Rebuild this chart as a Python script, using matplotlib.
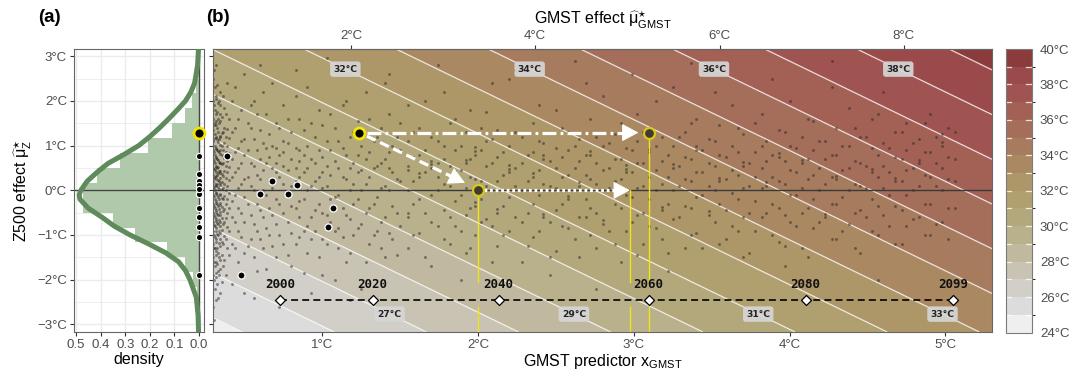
import numpy as np
import matplotlib
matplotlib.use("Agg")
import matplotlib.pyplot as plt
from matplotlib.colors import ListedColormap, BoundaryNorm

plt.rcParams['font.family'] = ['Liberation Sans', 'DejaVu Sans']
plt.rcParams['mathtext.fontset'] = 'custom'
plt.rcParams['mathtext.rm'] = 'Liberation Sans'
plt.rcParams['mathtext.it'] = 'Liberation Sans:italic'
plt.rcParams['mathtext.bf'] = 'Liberation Sans:bold'
plt.rcParams['lines.scale_dashes'] = False

# ---------------- data ----------------
# temperature model read from the isotherms: T = base + mu_GMST + mu_Z, mu_GMST = slope * x
T_BASE = 27.35
MU_PER_X = 1.69
levels = list(range(24, 41))
band_colors = ['#efefef', '#dcdcdc', '#d1cfc8', '#c8c3b2', '#c0b99f', '#b9b08c',
               '#b3a87b', '#b0a06f', '#ad9667', '#aa8962', '#a77b5e', '#a56e5a',
               '#a36156', '#a05452', '#9a4a4a', '#8c3b3c']

# histogram of Z500 effect (bin width 1/3)
hist_z = [-2.667, -2.333, -2.0, -1.667, -1.333, -1.0, -0.667, -0.333, 0.0,
          0.333, 0.667, 1.0, 1.333, 1.667, 2.0, 2.333, 2.667]
hist_d = [0.004, 0.010, 0.025, 0.057, 0.131, 0.260, 0.348, 0.470, 0.470,
          0.416, 0.321, 0.206, 0.111, 0.057, 0.030, 0.012, 0.005]

# density curve
dens_z = [-3.2, -2.8, -2.4, -2.0, -1.8, -1.6, -1.4, -1.2, -1.0, -0.8, -0.6, -0.4,
          -0.2, -0.1, 0.0, 0.2, 0.4, 0.6, 0.8, 1.0, 1.2, 1.4, 1.6, 1.8, 2.0, 2.2,
          2.4, 2.8, 3.2]
dens_d = [0.002, 0.004, 0.011, 0.037, 0.055, 0.083, 0.135, 0.205, 0.280, 0.345,
          0.395, 0.450, 0.484, 0.487, 0.480, 0.455, 0.415, 0.370, 0.305, 0.245,
          0.200, 0.160, 0.123, 0.088, 0.055, 0.033, 0.018, 0.006, 0.002]

# selected (large black) points; x < 0.3 ones fall outside panel (b)
sel_x = [0.390, 0.677, 0.838, 0.602, 0.782, 1.067, 1.037, 0.476, 0.25, 0.25, 0.25, 0.25]
sel_z = [0.764, 0.202, 0.112, -0.081, -0.074, -0.396, -0.822, -1.888, 0.369, 0.022, -0.591, -1.04]

# highlighted event and counterfactual points
hl_x, hl_z = 1.236, 1.29
cf1_x, cf1_z = 2.0, 0.0
cf2_x, cf2_z = 3.097, 1.29
eq_x = 2.975

# year markers along the GMST axis
years = [2000, 2020, 2040, 2060, 2080, 2099]
year_x = [0.727, 1.323, 2.132, 3.095, 4.103, 5.048]
year_z = -2.456

# contour label placement
top_labels = [32, 34, 36, 38]
bot_labels = [27, 29, 31, 33]

# point cloud: columns of x with z values
cloud_x = [0.30, 0.31, 0.32, 0.33, 0.34, 0.355, 0.37, 0.39,
           0.42, 0.46, 0.50, 0.54, 0.58, 0.62, 0.66, 0.70, 0.75, 0.80, 0.85, 0.90,
           0.95, 1.00, 1.05, 1.10, 1.15, 1.20, 1.25, 1.30, 1.35, 1.40, 1.45, 1.50,
           1.55, 1.62, 1.70, 1.78, 1.85, 1.92, 1.98, 2.05, 2.12, 2.20, 2.28, 2.35,
           2.42, 2.50, 2.58, 2.65, 2.72, 2.80, 2.88, 2.95, 3.02, 3.10, 3.18, 3.25,
           3.33, 3.40, 3.48, 3.55, 3.63, 3.70, 3.78, 3.85, 3.93, 4.00, 4.08, 4.15,
           4.23, 4.30, 4.38, 4.45, 4.53, 4.60, 4.68, 4.75, 4.83, 4.90, 4.98, 5.06]
cloud_z = [
    [-2.6, -1.9, -1.5, -1.2, -0.9, -0.7, -0.5, -0.3, -0.1, 0.05, 0.2, 0.35, 0.5, 0.7, 0.9, 1.1, 1.35, 1.6, 2.0, 2.5],
    [-2.2, -1.7, -1.3, -1.05, -0.8, -0.6, -0.4, -0.2, 0.0, 0.15, 0.3, 0.45, 0.6, 0.8, 1.0, 1.25, 1.5, 1.8, 2.3],
    [-1.95, -1.6, -1.35, -1.1, -0.85, -0.65, -0.45, -0.25, -0.05, 0.1, 0.25, 0.4, 0.55, 0.75, 0.95, 1.2, 1.45, 1.7, 2.1, 2.8],
    [-2.4, -1.8, -1.4, -1.0, -0.75, -0.55, -0.35, -0.15, 0.08, 0.22, 0.38, 0.52, 0.68, 0.88, 1.08, 1.3, 1.6, 1.95],
    [-1.75, -1.25, -0.95, -0.7, -0.48, -0.28, -0.08, 0.12, 0.28, 0.42, 0.62, 0.82, 1.02, 1.22, 1.55, 1.9, 2.2],
    [-2.05, -1.45, -1.15, -0.88, -0.62, -0.38, -0.18, 0.02, 0.18, 0.36, 0.58, 0.78, 1.0, 1.28, 1.65],
    [-1.55, -1.02, -0.72, -0.42, -0.12, 0.14, 0.44, 0.72, 1.05, 1.4, 1.85],
    [-1.3, -0.82, -0.5, -0.2, 0.1, 0.4, 0.66, 0.98, 1.38, 2.4],
    [-2.1, -1.2, -0.6, -0.25, 0.3, 0.7, 1.3, 2.0],
    [-1.6, -0.9, -0.4, 0.05, 0.5, 0.95, 1.6],
    [-2.3, -1.4, -0.7, -0.15, 0.25, 0.8, 1.15, 2.6],
    [-1.1, -0.55, 0.1, 0.6, 1.4, 1.9],
    [-1.8, -0.9, -0.3, 0.35, 0.9, 1.7],
    [-1.3, -0.6, 0.0, 0.45, 1.05, 2.2],
    [-2.0, -1.0, -0.4, 0.2, 0.75, 1.25],
    [-1.5, -0.75, -0.2, 0.4, 0.6, 0.95, 1.5],
    [-1.2, -0.5, 0.15, 0.55, 0.85, 1.1, 1.9],
    [-1.7, -0.95, -0.35, 0.1, 0.7, 1.3],
    [-1.05, -0.6, -0.25, 0.3, 0.65, 0.9, 1.6],
    [-1.4, -0.8, 0.0, 0.5, 1.0, 2.3],
    [-0.9, -0.45, 0.2, 0.6, 1.2],
    [-1.9, -1.1, -0.5, 0.05, 0.4, 0.75, 1.45],
    [-0.7, -0.2, 0.35, 0.9, 1.7],
    [-1.3, -0.85, -0.1, 0.5, 1.1],
    [-1.6, -0.55, 0.25, 0.8, 2.0],
    [-1.0, -0.3, 0.15, 0.6, 1.3],
    [-2.2, -0.75, 0.0, 0.45, 1.0],
    [-1.2, -0.4, 0.3, 0.85, 1.6],
    [-0.9, -0.15, 0.55, 1.2],
    [-1.5, -0.6, 0.1, 0.7, 2.4],
    [-1.1, -0.35, 0.4, 1.0],
    [-0.8, 0.2, 0.9, 1.5],
    [-1.3, -0.6, -0.5, 0.0, 0.45, 0.55, 1.1, 1.9],
    [-0.95, -0.2, 0.3, 0.38, 0.8, 1.4],
    [-1.7, -0.7, -0.1, 0.5, 0.58, 0.66, 1.2],
    [-1.1, -0.45, 0.15, 0.7, 1.0, 2.2],
    [-0.8, -0.25, 0.35, 0.43, 0.9, 1.6],
    [-1.4, -0.55, 0.05, 0.6, 0.68, 1.3],
    [-1.0, -0.35, -0.27, 0.25, 0.8, 0.88, 0.96],
    [-0.65, 0.1, 0.55, 1.1, 1.75],
    [-1.25, -0.5, -0.42, 0.2, 0.75, 1.35],
    [-0.9, -0.15, 0.4, 0.48, 0.56, 1.0, 2.5],
    [-1.6, -0.7, 0.0, 0.6, 1.2],
    [-1.05, -0.3, 0.3, 0.38, 0.85, 1.5],
    [-0.6, -0.52, 0.15, 0.7, 0.78, 1.05],
    [-1.35, -0.45, 0.05, 0.5, 0.95, 1.8],
    [-0.85, -0.2, -0.12, 0.35, 0.9, 1.3],
    [-1.5, -0.6, 0.1, 0.18, 0.65, 1.15],
    [-1.0, -0.4, 0.25, 0.8, 0.88, 1.6],
    [-0.75, -0.67, 0.0, 0.45, 1.0, 2.1],
    [-1.2, -0.3, 0.2, 0.7, 1.25],
    [-0.9, -0.1, 0.4, 0.48, 0.56, 0.95],
    [-1.45, -0.55, 0.05, 0.6, 1.1, 1.7],
    [-0.8, -0.2, 0.3, 0.85, 0.93, 1.4],
    [-1.1, -0.45, -0.37, 0.15, 0.65, 1.2],
    [-0.65, 0.0, 0.5, 0.58, 1.0, 2.3],
    [-1.3, -0.35, 0.25, 0.75, 1.3],
    [-0.95, -0.15, 0.4, 0.9, 0.98, 1.6],
    [-0.55, -0.47, 0.1, 0.6, 1.15],
    [-1.2, -0.3, 0.2, 0.28, 0.8, 1.45],
    [-0.8, -0.05, 0.45, 1.0, 1.9],
    [-1.5, -0.6, 0.05, 0.55, 0.63, 1.25],
    [-0.9, -0.25, 0.3, 0.85, 1.5],
    [-0.5, 0.1, 0.18, 0.65, 1.1],
    [-1.15, -0.4, 0.2, 0.75, 0.83, 1.35],
    [-0.7, -0.1, 0.45, 1.0, 2.0],
    [-1.3, -0.5, 0.05, 0.6, 0.68, 1.2],
    [-0.85, -0.2, 0.35, 0.9, 1.55],
    [-0.6, -0.52, 0.15, 0.7, 1.1],
    [-1.1, -0.3, 0.25, 0.33, 0.8, 1.4],
    [-0.75, 0.0, 0.5, 1.0, 1.85],
    [-1.4, -0.45, 0.1, 0.6, 1.2],
    [-0.9, -0.2, 0.4, 0.48, 0.95, 1.6],
    [-0.55, 0.05, 0.55, 1.05, 2.2],
    [-1.2, -0.35, 0.2, 0.28, 0.75, 1.3],
    [-0.8, -0.1, 0.45, 0.9, 1.5],
    [-0.6, 0.1, 0.6, 0.68, 1.15],
    [-1.0, -0.3, 0.3, 0.85, 1.7],
    [-0.7, 0.0, 0.5, 1.0, 1.08, 1.25],
    [-0.4, 0.2, 0.7, 1.3],
]
cloud2_x = [0.305, 0.315, 0.325, 0.335, 0.345, 0.36, 0.38, 0.40, 0.44, 0.48, 0.52, 0.56,
            0.60, 0.64, 0.68, 0.72, 0.78, 0.83, 0.88, 0.93, 0.98, 1.03, 1.08, 1.13, 1.18,
            1.23, 1.28, 1.33, 1.38, 1.43, 1.48, 1.58, 1.66, 1.74, 1.82, 1.89, 1.95, 2.02,
            2.09, 2.16, 2.24, 2.32, 2.39, 2.46, 2.54, 2.62, 2.69, 2.76, 2.84, 2.92, 2.99,
            3.06, 3.14, 3.22, 3.29, 3.37, 3.44, 3.52, 3.59, 3.67, 3.74, 3.82, 3.89, 3.97,
            4.04, 4.12, 4.19, 4.27, 4.34, 4.42, 4.49, 4.57, 4.64, 4.72, 4.79, 4.87, 4.94, 5.02]
cloud2_z = [
    [-2.9, -2.0, -1.6, -1.3, -1.0, -0.78, -0.55, -0.35, -0.12, 0.08, 0.27, 0.48, 0.66, 0.85, 1.15, 1.45, 1.9, 2.7],
    [-2.45, -1.85, -1.45, -1.15, -0.92, -0.68, -0.48, -0.28, -0.06, 0.12, 0.32, 0.52, 0.72, 0.92, 1.18, 1.55, 2.05],
    [-2.1, -1.65, -1.28, -0.98, -0.74, -0.52, -0.3, -0.1, 0.14, 0.34, 0.5, 0.7, 0.9, 1.12, 1.4, 1.75, 2.35],
    [-1.9, -1.5, -1.18, -0.9, -0.66, -0.42, -0.2, 0.02, 0.2, 0.44, 0.64, 0.86, 1.14, 1.5, 2.0],
    [-2.3, -1.55, -1.08, -0.8, -0.56, -0.32, -0.1, 0.16, 0.38, 0.6, 0.9, 1.2, 1.7],
    [-1.7, -1.2, -0.76, -0.46, -0.2, 0.06, 0.32, 0.6, 0.9, 1.3, 2.1],
    [-1.9, -1.1, -0.62, -0.3, 0.0, 0.28, 0.55, 0.86, 1.2, 1.7],
    [-1.45, -0.92, -0.4, -0.05, 0.22, 0.52, 0.84, 1.18, 1.6],
    [-1.3, -0.7, -0.1, 0.4, 0.85, 1.4, 2.3],
    [-1.9, -1.05, -0.5, 0.15, 0.62, 1.1, 1.8],
    [-1.25, -0.3, 0.3, 0.9, 1.5],
    [-2.4, -1.5, -0.75, 0.0, 0.55, 1.15, 2.0],
    [-1.1, -0.45, 0.25, 0.7, 1.35, 2.8],
    [-1.75, -0.85, -0.1, 0.6, 0.95, 1.7],
    [-1.25, -0.55, 0.05, 0.5, 1.0, 2.4],
    [-2.1, -1.0, -0.3, 0.3, 0.8, 1.4, -2.6],
    [-1.45, -0.7, -0.05, 0.45, 1.05, 1.6],
    [-1.2, -0.4, 0.2, 0.5, 0.95, 2.1, 2.7],
    [-1.85, -0.9, -0.2, 0.4, 0.8, 1.35],
    [-1.1, -0.6, 0.1, 0.7, 1.5, -2.3],
    [-1.5, -0.3, 0.3, 0.9, 1.8],
    [-1.2, -0.55, 0.1, 0.55, 1.1, 2.95],
    [-2.0, -0.9, -0.15, 0.65, 1.4],
    [-1.05, -0.4, 0.3, 0.95, 1.9],
    [-1.4, -0.65, 0.0, 0.5, 1.2, -2.45],
    [-0.85, -0.2, 0.4, 0.8, 1.55],
    [-1.6, -0.5, 0.15, 0.7, 2.2],
    [-1.0, -0.3, 0.5, 1.1],
    [-1.3, -0.7, 0.05, 0.6, 1.4],
    [-0.95, 0.0, 0.5, 0.85, 1.7, 2.6],
    [-1.45, -0.5, 0.25, 1.2],
    [-1.0, -0.3, 0.2, 0.75, 1.3],
    [-1.5, -0.5, 0.4, 0.9, 2.0],
    [-0.8, 0.0, 0.3, 0.6, 1.1, 2.8],
    [-1.2, -0.6, 0.1, 0.55, 1.5],
    [-0.9, -0.1, 0.45, 1.0, -2.0],
    [-1.3, -0.4, 0.3, 0.7, 1.8],
    [-0.7, -0.2, 0.2, 0.9, 1.4],
    [-1.6, -0.8, 0.0, 0.6, 1.15, 2.4],
    [-1.0, -0.35, 0.35, 0.85],
    [-0.6, 0.1, 0.5, 1.3, 2.7],
    [-1.25, -0.5, 0.2, 0.8],
    [-0.9, -0.1, 0.45, 1.1, 1.9],
    [-1.5, -0.7, 0.1, 0.65, -1.9],
    [-0.8, -0.3, 0.3, 0.75, 1.4],
    [-1.1, 0.0, 0.5, 1.0, 2.9],
    [-0.6, -0.2, 0.35, 0.8, 2.4],
    [-1.3, -0.5, 0.15, 0.6, 1.2, -2.2],
    [-0.9, 0.05, 0.5, 1.05],
    [-1.6, -0.4, 0.25, 0.7, 1.5],
    [-0.7, -0.15, 0.4, 0.9, 2.6],
    [-1.2, -0.5, 0.1, 0.6, 1.3],
    [-0.85, 0.0, 0.45, 1.0, 2.0],
    [-1.4, -0.3, 0.3, 0.8, -1.8],
    [-0.6, 0.1, 0.55, 1.2],
    [-1.0, -0.4, 0.2, 0.7, 1.5, 2.85],
    [-1.3, -0.1, 0.4, 0.9],
    [-0.7, 0.0, 0.55, 1.1, 2.2],
    [-1.1, -0.45, 0.25, 0.75],
    [-0.9, -0.2, 0.35, 0.85, 1.4],
    [-1.4, -0.5, 0.1, 0.6],
    [-0.6, 0.05, 0.5, 1.0, 1.7],
    [-1.0, -0.3, 0.3, 0.8, 2.5],
    [-1.25, -0.55, 0.15, 0.65, 1.3, -1.7],
    [-0.8, -0.1, 0.4, 0.95],
    [-1.5, -0.4, 0.25, 0.7, 1.6],
    [-0.7, 0.0, 0.5, 1.1],
    [-1.1, -0.3, 0.3, 0.8, 2.3, 2.9],
    [-0.9, -0.15, 0.45, 1.0],
    [-1.3, -0.5, 0.15, 0.65, 1.4],
    [-0.6, 0.05, 0.55, 1.2],
    [-1.0, -0.35, 0.3, 0.8, 1.7, -2.0],
    [-0.8, -0.1, 0.4, 0.95, 2.6],
    [-1.2, -0.45, 0.2, 0.7, 1.3],
    [-0.65, 0.0, 0.5, 1.05],
    [-1.0, -0.3, 0.35, 0.85, 1.5],
    [-0.75, 0.1, 0.6, 1.2],
    [-1.1, -0.4, 0.25, 0.75, 1.4],
]

# ---------------- figure ----------------
W, H = 1074, 378
fig = plt.figure(figsize=(W / 100, H / 100), dpi=100)
TOP, BOT = 49, 332
ax_a = fig.add_axes([74 / W, 1 - BOT / H, 130 / W, (BOT - TOP) / H])
ax_b = fig.add_axes([213.3 / W, 1 - BOT / H, 778.7 / W, (BOT - TOP) / H])
cax = fig.add_axes([1005.5 / W, 1 - 332.5 / H, 26 / W, 283.5 / H])

ZLIM = (-3.17, 3.16)
XLIM = (0.30, 5.30)
tick_col = '#4d4d4d'
edge_col = '#666666'

def deg(v):
    return f"{v:d}°C".replace('-', '\u2212')

# ---- panel (a)
ax_a.set_facecolor('white')
ax_a.set_xlim(0.508, -0.02)
ax_a.set_ylim(*ZLIM)
ax_a.set_xticks([0.5, 0.4, 0.3, 0.2, 0.1, 0.0])
ax_a.set_xticklabels(['0.5', '0.4', '0.3', '0.2', '0.1', '0.0'])
ax_a.set_yticks(range(-3, 4))
ax_a.set_yticklabels([deg(v) for v in range(-3, 4)])
ax_a.set_yticks(np.arange(-3, 3.01, 0.5), minor=True)
ax_a.grid(which='major', color='#ebebeb', lw=1.0, zorder=0)
ax_a.grid(which='minor', axis='y', color='#ebebeb', lw=0.6, zorder=0)
ax_a.set_axisbelow(True)
ax_a.barh(hist_z, hist_d, height=1 / 3, color='#b0c9aa', lw=0, zorder=1)
ax_a.plot(dens_d, dens_z, color='#5f8a5b', lw=3.6, zorder=3, solid_joinstyle='round')
ax_a.axhline(0, color='#454545', lw=1.0, zorder=2)
ax_a.axvline(0, color='#454545', lw=1.0, zorder=2)
ax_a.scatter(np.zeros(len(sel_z)), sel_z, s=20, c='black', edgecolors='white', linewidths=0.8, zorder=5)
ax_a.scatter([0], [hl_z], s=62, c='black', edgecolors='#f2e600', linewidths=2.0, zorder=6, clip_on=False)
ax_a.set_xlabel('density', fontsize=11.5, labelpad=1)
ax_a.set_ylabel(r'Z500 effect $\widehat{\mathrm{\mu}}^{\star}_{\mathrm{Z}}$', fontsize=11.5, labelpad=2)
ax_a.tick_params(labelsize=9.5, colors='#333333', labelcolor=tick_col, length=3, width=0.8, pad=2)
ax_a.tick_params(which='minor', length=0)
for s in ax_a.spines.values():
    s.set_color(edge_col)
    s.set_linewidth(0.8)

# ---- panel (b)
xg = np.linspace(XLIM[0], XLIM[1], 300)
zg = np.linspace(ZLIM[0], ZLIM[1], 300)
X, Z = np.meshgrid(xg, zg)
T = T_BASE + MU_PER_X * X + Z
cmap = ListedColormap(band_colors)
norm = BoundaryNorm(levels, cmap.N)
cf = ax_b.contourf(X, Z, T, levels=levels, cmap=cmap, norm=norm, zorder=0)
ax_b.contour(X, Z, T, levels=levels[1:-1], colors='white', linewidths=0.9, alpha=0.8, zorder=1)

px, pz = [], []
for cxs, czs in [(cloud_x, cloud_z), (cloud2_x, cloud2_z)]:
    for cx, zs in zip(cxs, czs):
        for zz in zs:
            px.append(cx)
            pz.append(zz)
ax_b.scatter(px, pz, s=4.5, c='#262626', alpha=0.5, linewidths=0, zorder=2)

ax_b.axhline(0, color='#3a3a3a', lw=1.0, zorder=3)

# yellow verticals with gap around year band
yel = '#efe41a'
for vx, vtop in [(cf1_x, cf1_z), (eq_x, 0.0), (cf2_x, cf2_z)]:
    ax_b.plot([vx, vx], [vtop, -2.05], color=yel, lw=1.0, zorder=3)
    ax_b.plot([vx, vx], [-2.6, ZLIM[0]], color=yel, lw=1.0, zorder=3)

# year line
ax_b.plot([year_x[0], year_x[-1]], [year_z, year_z], color='black', lw=1.2, dashes=[5, 3], zorder=4)
ax_b.scatter(year_x, [year_z] * len(year_x), marker='D', s=26, c='white', edgecolors='black', linewidths=0.9, zorder=5)
for yx, yr in zip(year_x, years):
    ax_b.text(yx, year_z + 0.2, str(yr), ha='center', va='bottom', fontsize=9,
              fontweight='bold', family='DejaVu Sans Mono', color='#111111', zorder=5)

# contour labels
box = dict(boxstyle='round,pad=0.35,rounding_size=0.3', fc='#d6d6d6', ec='none', alpha=0.92)
for t in top_labels:
    zz = 2.71
    xx = (t - T_BASE - zz) / MU_PER_X
    ax_b.text(xx, zz, f"{t}°C", ha='center', va='center', fontsize=6.6, fontweight='bold',
              family='DejaVu Sans', color='#222222', bbox=box, zorder=6)
for t in bot_labels:
    zz = -2.77
    xx = (t - T_BASE - zz) / MU_PER_X
    ax_b.text(xx, zz, f"{t}°C", ha='center', va='center', fontsize=6.6, fontweight='bold',
              family='DejaVu Sans', color='#222222', bbox=box, zorder=6)

# arrows
def head(ax, tip, back):
    ax.annotate('', xy=tip, xytext=back,
                arrowprops=dict(arrowstyle='-|>,head_length=0.75,head_width=0.4', fc='white', ec='white',
                                lw=0.8, shrinkA=0, shrinkB=0, mutation_scale=14), zorder=7)

# dash-dot: event -> counterfactual at same Z500 effect
ax_b.plot([hl_x + 0.05, 2.96], [hl_z, hl_z], color='white', lw=2.3, dashes=[10, 3, 2, 3], zorder=6,
          dash_capstyle='butt')
head(ax_b, (3.03, hl_z), (2.95, hl_z))
# dashed: event -> along isotherm to Z=0
tx, tz = 1.916, 0.166
sx, sz = hl_x + 0.05, hl_z - 0.08
fr = 0.88
ax_b.plot([sx, sx + fr * (tx - sx)], [sz, sz + fr * (tz - sz)], color='white', lw=2.3, dashes=[7, 3.5], zorder=6,
          dash_capstyle='butt')
head(ax_b, (tx, tz), (sx + 0.85 * (tx - sx), sz + 0.85 * (tz - sz)))
# dotted
ax_b.plot([cf1_x + 0.04, 2.91], [0, 0], color='white', lw=2.3, dashes=[2, 2], zorder=6, dash_capstyle='butt')
head(ax_b, (eq_x, 0.0), (2.9, 0.0))

# big points
ax_b.scatter(sel_x, sel_z, s=26, c='black', edgecolors='white', linewidths=0.9, zorder=8)
ax_b.scatter([hl_x], [hl_z], s=62, c='black', edgecolors='#f2e600', linewidths=2.0, zorder=9)
ax_b.scatter([cf1_x, cf2_x], [cf1_z, cf2_z], s=62, c='#3f3b30', edgecolors='#d8c81c', linewidths=1.6, zorder=9)

ax_b.set_xlim(*XLIM)
ax_b.set_ylim(*ZLIM)
ax_b.set_xticks([1, 2, 3, 4, 5])
ax_b.set_xticklabels([deg(v) for v in [1, 2, 3, 4, 5]])
ax_b.set_yticks(range(-3, 4))
ax_b.set_yticklabels([])
ax_b.tick_params(labelsize=9.5, colors='#333333', labelcolor=tick_col, length=3, width=0.8, pad=2)
ax_b.set_xlabel(r'GMST predictor $\mathrm{x}_{\mathrm{GMST}}$', fontsize=11.5, labelpad=1)
for s in ax_b.spines.values():
    s.set_color(edge_col)
    s.set_linewidth(0.8)

sec = ax_b.secondary_xaxis('top', functions=(lambda x: MU_PER_X * x, lambda m: m / MU_PER_X))
sec.set_xticks([2, 4, 6, 8])
sec.set_xticklabels([deg(v) for v in [2, 4, 6, 8]])
sec.tick_params(labelsize=9.5, colors='#333333', labelcolor=tick_col, length=3, width=0.8, pad=2)
sec.set_xlabel(r'GMST effect $\widehat{\mathrm{\mu}}^{\star}_{\mathrm{GMST}}$', fontsize=11.5, labelpad=4)
sec.spines['top'].set_color(edge_col)

# ---- colorbar
cb = fig.colorbar(cf, cax=cax, ticks=list(range(24, 41, 2)))
cb.set_ticklabels([deg(v) for v in range(24, 41, 2)])
cax.tick_params(length=0, labelsize=9.5, labelcolor=tick_col, pad=6)
cb.outline.set_edgecolor('#7a7a7a')
cb.outline.set_linewidth(0.8)
tr = cax.get_yaxis_transform()
for lv in levels[1:-1]:
    cax.plot([0, 0.22], [lv, lv], color='white', lw=0.9, transform=tr, alpha=0.8)
    cax.plot([0.78, 1], [lv, lv], color='white', lw=0.9, transform=tr, alpha=0.8)

# panel tags
fig.text(38 / W, 1 - 18 / H, '(a)', fontsize=13.5, fontweight='bold', va='center', ha='left')
fig.text(206 / W, 1 - 18 / H, '(b)', fontsize=13.5, fontweight='bold', va='center', ha='left')

fig.savefig('out.png', dpi=100)
